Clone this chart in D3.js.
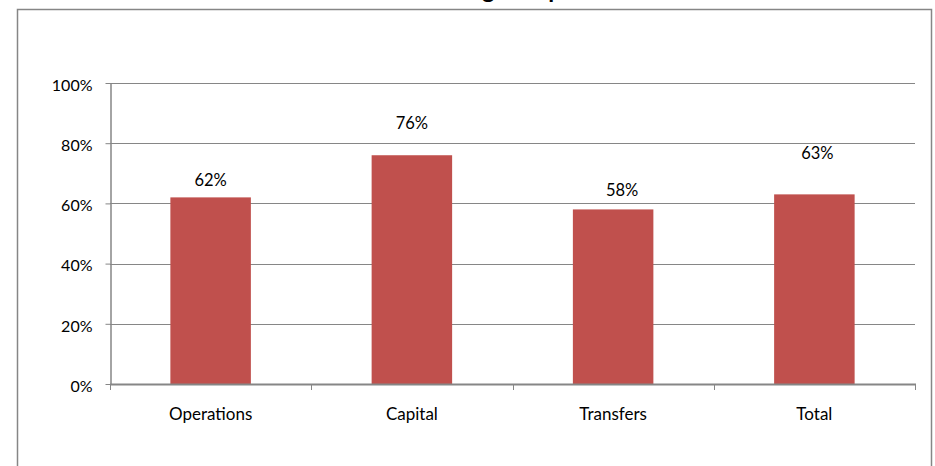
<!DOCTYPE html>
<html>
<head>
<meta charset="utf-8">
<script src="https://cdn.jsdelivr.net/npm/d3@7"></script>
<style>
  html, body { margin: 0; padding: 0; background: #fff; }
  svg { display: block; }
  text { font-family: Lato, "Open Sans", sans-serif; fill: #000; }
</style>
</head>
<body>
<svg id="chart" width="935" height="466"></svg>
<script>
// Share of budget spent, by spending category
const categories = ["Operations", "Capital", "Transfers", "Total"];
const spentShare = [0.62, 0.76, 0.58, 0.63];
const yTicks = [0, 0.2, 0.4, 0.6, 0.8, 1.0];
const chartTitle = "Budget Expenditure";

const W = 935, H = 466;
const plot = { left: 110, right: 915, top: 83, bottom: 384 };
const gridColor = "#868686";
const barColor = "#C0504D";

// Hand-placed lift of each value label above its bar, in pixels [dx, dy]
const labelNudge = [[0, 11], [0, 26], [9, 13], [3, 35]];

const svg = d3.select("#chart");

// Outer chart border (bottom edge runs off the page)
svg.append("rect")
  .attr("x", 17.5).attr("y", 9.5)
  .attr("width", 914).attr("height", 480)
  .attr("fill", "#fff")
  .attr("stroke", gridColor).attr("stroke-width", 1.5);

// Title, mostly above the visible page
const title = svg.append("text")
  .attr("y", -2)
  .attr("font-size", 24)
  .attr("font-weight", "bold")
  .text(chartTitle);
const gIndex = chartTitle.indexOf("g");
const gPos = title.node().getStartPositionOfChar(gIndex).x;
title.attr("x", 482 - gPos);

const x = d3.scaleBand().domain(categories).range([plot.left, plot.right]).padding(0);
const y = d3.scaleLinear().domain([0, 1]).range([plot.bottom, plot.top]);

// Horizontal gridlines
svg.append("g")
  .selectAll("line")
  .data(yTicks.filter(d => d > 0))
  .join("line")
  .attr("x1", plot.left).attr("x2", plot.right)
  .attr("y1", d => Math.round(y(d)) + 0.5).attr("y2", d => Math.round(y(d)) + 0.5)
  .attr("stroke", gridColor).attr("stroke-width", 1);

// Bars
const barW = x.bandwidth() * 0.4;
svg.append("g")
  .selectAll("rect")
  .data(categories)
  .join("rect")
  .attr("x", d => x(d) + (x.bandwidth() - barW) / 2)
  .attr("width", barW)
  .attr("y", (d, i) => y(spentShare[i]))
  .attr("height", (d, i) => y(0) - y(spentShare[i]))
  .attr("fill", barColor);

// Value labels
svg.append("g")
  .selectAll("text")
  .data(categories)
  .join("text")
  .attr("x", (d, i) => x(d) + x.bandwidth() / 2 + labelNudge[i][0])
  .attr("y", (d, i) => y(spentShare[i]) - labelNudge[i][1])
  .attr("text-anchor", "middle")
  .attr("font-size", 16.5)
  .text((d, i) => d3.format(".0%")(spentShare[i]));

// Y axis
const yAxis = svg.append("g")
  .attr("transform", `translate(${plot.left + 0.5},0)`)
  .call(d3.axisLeft(y).tickValues(yTicks).tickFormat(d3.format(".0%"))
    .tickSize(5).tickSizeOuter(0).tickPadding(13));
yAxis.select(".domain").attr("stroke", gridColor).attr("stroke-width", 1.5);
yAxis.selectAll(".tick line").attr("stroke", gridColor);
yAxis.selectAll(".tick text")
  .attr("font-size", 16).attr("font-family", "Lato, 'Open Sans', sans-serif")
  .attr("fill", "#000").attr("dy", "0.45em");

// X axis: baseline, boundary ticks and category names
const xAxis = svg.append("g");
xAxis.append("line")
  .attr("x1", plot.left).attr("x2", plot.right + 1)
  .attr("y1", plot.bottom + 0.5).attr("y2", plot.bottom + 0.5)
  .attr("stroke", gridColor).attr("stroke-width", 2);
const bounds = categories.map(c => x(c)).concat([x.range()[1]]);
xAxis.selectAll("line.tick")
  .data(bounds)
  .join("line")
  .attr("class", "tick")
  .attr("x1", d => Math.round(d) + 0.5).attr("x2", d => Math.round(d) + 0.5)
  .attr("y1", plot.bottom).attr("y2", plot.bottom + 6)
  .attr("stroke", gridColor).attr("stroke-width", 1);
xAxis.selectAll("text")
  .data(categories)
  .join("text")
  .attr("x", d => x(d) + x.bandwidth() / 2)
  .attr("y", 420)
  .attr("text-anchor", "middle")
  .attr("font-size", 17)
  .text(d => d);
</script>
</body>
</html>
